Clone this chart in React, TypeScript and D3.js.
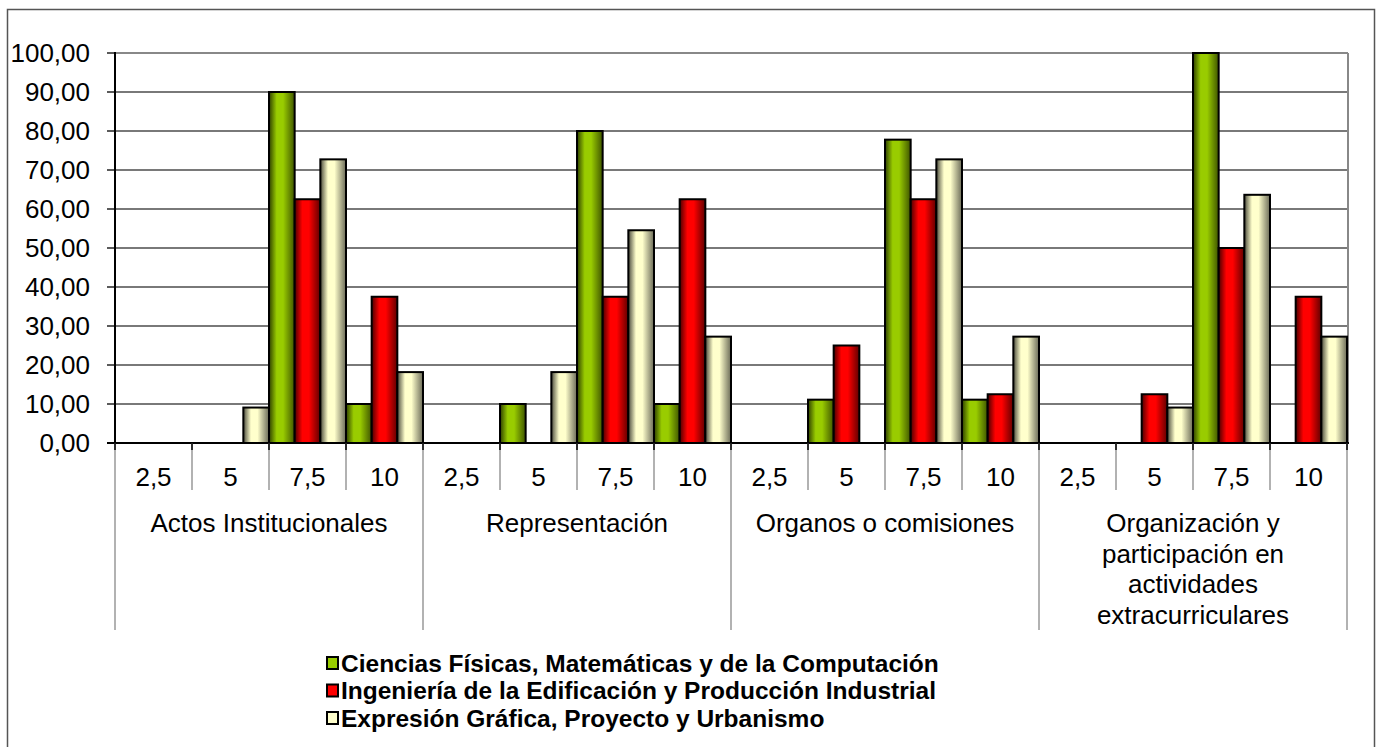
import React from "react";
import * as d3 from "d3";

const groups = [
  ["Actos Institucionales"],
  ["Representación"],
  ["Organos o comisiones"],
  ["Organización y", "participación en", "actividades", "extracurriculares"],
];
const subLabels = ["2,5", "5", "7,5", "10"];
const seriesNames = [
  "Ciencias Físicas, Matemáticas y de la Computación",
  "Ingeniería de la Edificación y Producción Industrial",
  "Expresión Gráfica, Proyecto y Urbanismo",
];
// values per slot (group x sub) in order
const ciencias = [0, 0, 90, 10, 0, 10, 80, 10, 0, 11.11, 77.78, 11.11, 0, 0, 100, 0];
const ingenieria = [0, 0, 62.5, 37.5, 0, 0, 37.5, 62.5, 0, 25, 62.5, 12.5, 0, 12.5, 50, 37.5];
const expresion = [0, 9.09, 72.73, 18.18, 0, 18.18, 54.55, 27.27, 0, 0, 72.73, 27.27, 0, 9.09, 63.64, 27.27];
const yTicks = [0, 10, 20, 30, 40, 50, 60, 70, 80, 90, 100];

const seriesValues = [ciencias, ingenieria, expresion];
const colors = [
  { edge: "#2e3f00", mid: "#99cc00", right: "#3f5500", solid: "#99cc00" },
  { edge: "#4a0000", mid: "#ff0000", right: "#600000", solid: "#ff0000" },
  { edge: "#4a4a3c", mid: "#ffffcc", right: "#6b6b58", solid: "#ffffcc" },
];

const W = 1381;
const H = 747;
const left = 115;
const right = 1347;
const top = 53;
const bottom = 443;
const font = "Arial, 'Liberation Sans', sans-serif";

export default function App() {
  const slots = d3.range(16).map(String);
  const x = d3.scaleBand<string>().domain(slots).range([left, right]).padding(0);
  const xs = d3
    .scaleBand<number>()
    .domain([0, 1, 2])
    .range([0, x.bandwidth()])
    .padding(0);
  const y = d3.scaleLinear().domain([0, 100]).range([bottom, top]);
  const groupW = (right - left) / 4;

  return (
    <svg
      width={W}
      height={H}
      style={{ position: "absolute", left: 0, top: 0, background: "#fff" }}
      fontFamily={font}
    >
      <defs>
        {colors.map((c, i) => (
          <linearGradient key={i} id={`g${i}`} x1="0" x2="1" y1="0" y2="0">
            <stop offset="0" stopColor={c.edge} />
            <stop offset="0.3" stopColor={c.mid} />
            <stop offset="0.55" stopColor={c.mid} />
            <stop offset="1" stopColor={c.right} />
          </linearGradient>
        ))}
      </defs>
      <rect x={7.5} y={9.5} width={1367} height={760} fill="#fff" stroke="#555" strokeWidth={1.5} />

      {/* gridlines */}
      {yTicks.slice(1, -1).map((t) => (
        <line key={t} x1={left} x2={right} y1={y(t)} y2={y(t)} stroke="#4d4d4d" strokeWidth={1.3} />
      ))}
      {/* top and right plot border */}
      <line x1={left} x2={right + 1} y1={top} y2={top} stroke="#888" strokeWidth={2} />
      <line x1={right + 1} x2={right + 1} y1={top} y2={bottom} stroke="#888" strokeWidth={2} />

      {/* y ticks & labels */}
      {yTicks.map((t) => (
        <g key={t}>
          <line x1={left - 8} x2={left} y1={y(t)} y2={y(t)} stroke="#000" strokeWidth={1.3} />
          <text x={90} y={y(t)} dy="0.35em" textAnchor="end" fontSize={26} fill="#000">
            {d3.format(".2f")(t).replace(".", ",")}
          </text>
        </g>
      ))}

      {/* bars */}
      {seriesValues.map((vals, si) =>
        vals.map((v, i) =>
          v > 0 ? (
            <rect
              key={`${si}-${i}`}
              x={(x(String(i)) as number) + (xs(si) as number)}
              y={y(v)}
              width={xs.bandwidth()}
              height={y(0) - y(v)}
              fill={`url(#g${si})`}
              stroke="#000"
              strokeWidth={2}
            />
          ) : null
        )
      )}

      {/* axes */}
      <line x1={left} x2={left} y1={top - 1} y2={bottom} stroke="#000" strokeWidth={2} />
      <line x1={left - 8} x2={right + 2} y1={bottom} y2={bottom} stroke="#000" strokeWidth={2} />

      {/* category dividers */}
      {d3.range(17).map((i) => {
        const xx = left + i * x.bandwidth();
        const isGroup = i % 4 === 0;
        return (
          <g key={i}>
            <line x1={xx} x2={xx} y1={bottom} y2={isGroup ? 630 : 490} stroke="#999" strokeWidth={1.5} />
            <line x1={xx} x2={xx} y1={bottom} y2={bottom + 7} stroke="#000" strokeWidth={1.5} />
          </g>
        );
      })}
      {slots.map((s, i) => (
        <text
          key={s}
          x={(x(s) as number) + x.bandwidth() / 2}
          y={477}
          dy="0.35em"
          textAnchor="middle"
          fontSize={26}
          fill="#000"
        >
          {subLabels[i % 4]}
        </text>
      ))}
      {groups.map((lines, gi) => (
        <text key={gi} textAnchor="middle" fontSize={26} fill="#000">
          {lines.map((ln, li) => (
            <tspan key={li} x={left + groupW * gi + groupW / 2} y={523 + li * 30.5} dy="0.35em">
              {ln}
            </tspan>
          ))}
        </text>
      ))}

      {/* legend */}
      {seriesNames.map((n, i) => (
        <g key={n} transform={`translate(0, ${663 + i * 27.5})`}>
          <rect x={327} y={-6} width={11} height={12} fill={colors[i].solid} stroke="#000" strokeWidth={2} />
          <text x={341} y={0} dy="0.35em" fontSize={24.5} fontWeight="bold" fill="#000">
            {n}
          </text>
        </g>
      ))}
    </svg>
  );
}
